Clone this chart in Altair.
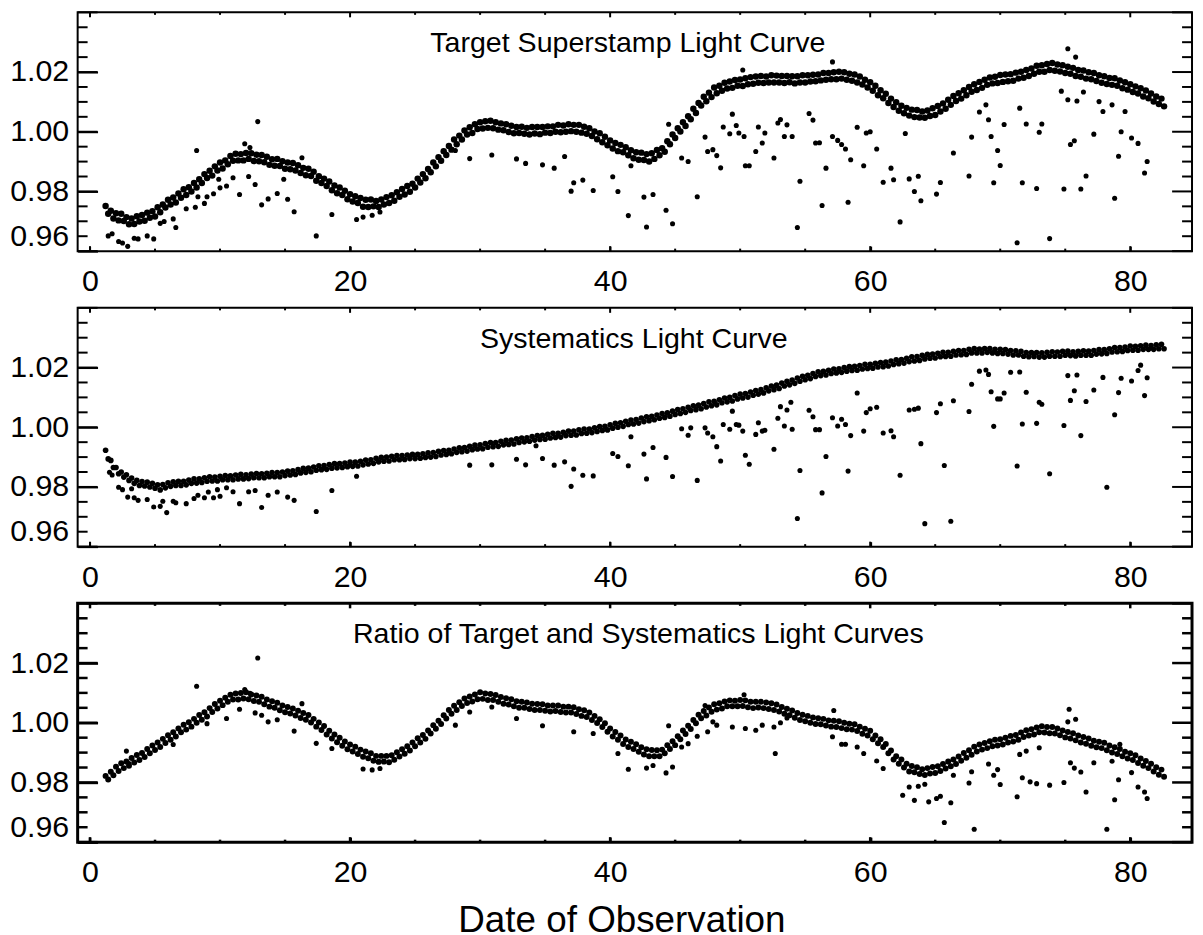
import altair as alt
import numpy as np
import pandas as pd

FONT = "Liberation Sans"

# Dense part of each light curve: samples start at day 1.2, one every 0.2 day.
# Values are (flux - 1) in units of 1e-4.
BAND_START = 1.2
BAND_STEP = 0.2

TARGET_BAND = [
    -249, -275, -265, -291, -273, -297, -275, -299, -286, -310, -291, -309, -283, -301, -279,
    -298, -271, -288, -266, -284, -253, -270, -244, -254, -228, -244, -220, -237, -207, -221,
    -193, -212, -186, -200, -172, -187, -159, -172, -142, -155, -131, -147, -116, -130, -103,
    -123, -96, -109, -81, -97, -74, -96, -75, -96, -71, -91, -72, -98, -77, -99,
    -78, -102, -84, -111, -92, -114, -91, -115, -99, -124, -103, -126, -105, -130, -112,
    -138, -121, -146, -124, -148, -134, -164, -149, -172, -157, -182, -167, -196, -180, -206,
    -187, -212, -198, -226, -209, -234, -216, -239, -222, -251, -228, -252, -227, -250, -232,
    -252, -227, -244, -219, -239, -213, -231, -203, -218, -192, -210, -182, -201, -174, -187,
    -157, -170, -142, -156, -125, -136, -103, -116, -85, -97, -65, -78, -48, -60, -26,
    -42, -13, -26, 4, -9, 15, -4, 25, 9, 32, 11, 35, 13, 37, 12,
    32, 7, 28, 5, 25, -1, 20, -5, 16, -4, 17, -7, 13, -9, 16,
    -6, 16, -8, 16, -3, 18, -4, 18, 0, 23, -2, 21, 0, 25, 2,
    23, 0, 23, -3, 17, -7, 12, -14, 1, -25, -5, -35, -17, -45, -29,
    -56, -38, -65, -44, -69, -52, -79, -62, -89, -69, -94, -70, -95, -75, -100,
    -72, -91, -61, -79, -55, -67, -32, -42, -9, -21, 12, 1, 32, 19, 52,
    42, 77, 63, 96, 88, 117, 102, 131, 116, 148, 129, 154, 137, 164, 145,
    168, 147, 173, 154, 175, 153, 179, 159, 183, 161, 185, 164, 187, 163, 185,
    165, 189, 165, 188, 165, 187, 163, 187, 166, 186, 162, 186, 165, 189, 165,
    189, 168, 191, 169, 192, 172, 197, 174, 197, 176, 199, 176, 201, 178, 199,
    174, 194, 171, 192, 165, 185, 158, 174, 148, 166, 137, 154, 122, 139, 112,
    127, 96, 111, 83, 99, 70, 87, 62, 80, 54, 74, 49, 73, 48, 68,
    47, 71, 53, 79, 56, 86, 68, 95, 77, 107, 90, 120, 103, 129, 111,
    139, 122, 150, 134, 159, 140, 167, 147, 174, 157, 182, 162, 184, 163, 190,
    167, 192, 169, 193, 171, 198, 178, 201, 181, 207, 187, 212, 194, 221, 201,
    223, 201, 227, 207, 230, 204, 225, 202, 223, 197, 218, 194, 214, 187, 207,
    184, 205, 178, 199, 176, 197, 170, 189, 164, 186, 160, 180, 157, 179, 154,
    172, 146, 166, 141, 159, 133, 152, 128, 146, 118, 138, 112, 128, 101, 118,
    93, 111, 85,
]

TARGET_OUTLIERS = [
    (1.4, -349), (1.7, -342), (2.2, -368), (2.5, -373), (2.9, -384), (3.4, -357), (3.7, -359),
    (4.4, -349), (4.9, -359), (5.4, -307), (5.7, -301), (6.4, -292), (6.6, -321), (7.4, -258),
    (8.1, -253), (8.2, -63), (8.3, -218), (8.8, -240), (9.0, -218), (9.5, -208), (9.9, -159),
    (10.0, -188), (10.5, -182), (11.0, -154), (11.5, -210), (11.9, -40), (12.2, -150), (12.3, -53),
    (12.7, -177), (12.9, 34), (13.2, -245), (13.7, -225), (14.4, -207), (14.9, -159), (15.2, -226),
    (15.7, -268), (16.3, -87), (17.4, -349), (18.6, -277), (20.5, -294), (21.0, -286), (21.7, -280),
    (22.3, -269), (28.1, -63), (29.2, -90), (30.9, -78), (32.8, -91), (33.5, -106), (34.8, -111),
    (35.7, -122), (36.5, -83), (37.0, -199), (37.2, -171), (37.9, -162), (38.7, -197), (40.2, -151),
    (40.6, -200), (41.4, -281), (41.6, -114), (42.6, -219), (42.8, -319), (43.3, -210), (44.3, -263),
    (44.5, 25), (44.8, -308), (45.5, -88), (46.0, -100), (46.7, -218), (47.3, -18), (47.5, -66),
    (47.9, -60), (48.2, -80), (48.5, -121), (48.7, 16), (49.2, -7), (49.4, 59), (49.7, 21),
    (49.9, -4), (50.2, 207), (50.3, -16), (50.4, -114), (50.7, -114), (51.2, -66), (51.4, 16),
    (51.7, -38), (51.9, -4), (52.6, -88), (52.9, 29), (53.1, 41), (53.4, -16), (53.6, 23),
    (54.0, -16), (54.4, -321), (54.6, -166), (55.3, 61), (55.6, 39), (55.8, -38), (56.1, -37),
    (56.3, -247), (56.6, -122), (57.1, -16), (57.1, 234), (57.5, -29), (57.8, -43), (58.1, -58),
    (58.3, -236), (58.5, -94), (59.0, 15), (59.5, -114), (59.7, -4), (60.0, 0), (60.5, -58),
    (61.0, -169), (61.6, -122), (61.8, -161), (62.3, -302), (62.7, -6), (63.0, -158), (63.4, -200),
    (63.7, -149), (63.9, -231), (65.1, -209), (65.4, -170), (66.4, -71), (67.6, -148), (67.8, -18),
    (68.4, 66), (68.9, 90), (69.1, 40), (69.3, -16), (69.5, -171), (69.8, -63), (70.0, -113),
    (70.3, 24), (71.3, -372), (71.5, 79), (71.7, -171), (72.0, 26), (72.8, -190), (73.0, -2),
    (73.2, 26), (73.8, -358), (74.7, 136), (74.9, -192), (75.2, 278), (75.2, 107), (75.4, -43),
    (75.7, -30), (75.8, 250), (75.9, 103), (76.2, -192), (76.4, 133), (76.6, -148), (77.2, -8),
    (77.6, 101), (77.9, 68), (78.6, 90), (78.8, -223), (79.1, -82), (79.3, 0), (79.6, 68),
    (80.1, -21), (80.6, -39), (81.1, -138), (81.3, -100),
]

SYSTEMATICS_BAND = [
    -77, -106, -111, -135, -135, -156, -150, -167, -159, -178, -170, -188, -178, -195, -182,
    -197, -184, -200, -188, -204, -193, -210, -192, -203, -186, -198, -183, -195, -181, -195,
    -181, -193, -177, -188, -173, -187, -173, -185, -169, -181, -166, -180, -167, -180, -164,
    -176, -162, -176, -163, -176, -160, -173, -158, -173, -159, -172, -157, -169, -155, -169,
    -156, -169, -154, -166, -152, -166, -152, -166, -150, -162, -147, -160, -146, -158, -142,
    -153, -138, -151, -137, -149, -133, -144, -129, -142, -128, -141, -125, -137, -122, -136,
    -122, -135, -120, -132, -117, -131, -117, -130, -114, -126, -110, -123, -109, -121, -104,
    -116, -101, -114, -100, -113, -97, -109, -95, -109, -95, -108, -93, -105, -91, -105,
    -91, -104, -89, -101, -86, -100, -85, -98, -81, -93, -78, -91, -77, -89, -73,
    -84, -69, -82, -68, -80, -64, -75, -60, -73, -59, -72, -55, -67, -51, -65,
    -51, -64, -47, -59, -44, -58, -43, -56, -39, -51, -36, -49, -35, -47, -31,
    -43, -28, -41, -27, -40, -24, -36, -20, -34, -20, -33, -17, -28, -13, -27,
    -13, -26, -9, -21, -6, -20, -6, -18, -2, -14, 2, -11, 3, -9, 8,
    -3, 13, 0, 15, 3, 20, 9, 24, 11, 26, 14, 31, 19, 35, 22,
    37, 25, 41, 30, 46, 33, 48, 37, 54, 43, 59, 46, 62, 50, 67,
    56, 72, 59, 74, 62, 79, 68, 85, 72, 87, 75, 92, 82, 98, 85,
    100, 88, 106, 95, 111, 98, 113, 101, 118, 107, 123, 111, 126, 115, 132,
    122, 138, 126, 141, 130, 148, 138, 154, 142, 158, 147, 165, 154, 171, 159,
    174, 163, 180, 170, 186, 173, 187, 175, 191, 180, 195, 182, 196, 184, 200,
    188, 203, 190, 204, 191, 207, 195, 211, 197, 211, 198, 214, 202, 217, 203,
    218, 205, 222, 210, 226, 213, 227, 215, 231, 220, 236, 222, 237, 224, 241,
    229, 244, 231, 245, 232, 248, 236, 251, 237, 251, 238, 254, 242, 257, 243,
    257, 244, 261, 249, 264, 249, 262, 249, 264, 251, 264, 249, 261, 247, 261,
    247, 260, 245, 257, 242, 256, 242, 254, 238, 250, 236, 250, 237, 250, 235,
    249, 235, 251, 238, 253, 238, 252, 238, 254, 241, 255, 240, 253, 239, 254,
    241, 256, 241, 255, 241, 257, 245, 260, 246, 260, 247, 263, 252, 267, 253,
    267, 254, 269, 257, 272, 258, 271, 258, 273, 261, 275, 261, 274, 261, 276,
    263, 278, 263,
]

SYSTEMATICS_OUTLIERS = [
    (1.5, -151), (1.7, -160), (2.2, -201), (2.5, -209), (2.9, -234), (3.2, -206), (3.4, -236),
    (3.7, -245), (4.4, -242), (4.9, -267), (5.4, -265), (5.6, -248), (5.9, -286), (6.4, -248),
    (6.6, -253), (7.4, -256), (8.0, -239), (8.3, -228), (8.8, -236), (9.1, -217), (9.5, -236),
    (9.8, -209), (10.0, -231), (10.5, -203), (11.0, -216), (11.5, -256), (12.2, -216), (12.7, -212),
    (13.2, -269), (13.7, -228), (14.4, -217), (15.2, -234), (15.7, -245), (17.4, -282), (18.6, -212),
    (20.5, -164), (29.2, -127), (30.9, -126), (32.8, -107), (33.5, -126), (34.3, -62), (34.8, -105),
    (35.7, -127), (36.5, -116), (37.0, -198), (37.2, -140), (37.9, -161), (38.7, -163), (40.2, -88),
    (40.6, -98), (41.4, -129), (41.6, -32), (42.6, -90), (42.8, -173), (43.3, -68), (44.3, -101),
    (44.8, -165), (45.5, -5), (46.0, -27), (46.2, -2), (46.7, -178), (47.3, -2), (47.5, -19),
    (47.9, -32), (48.2, -65), (48.5, -113), (48.7, 9), (49.2, -7), (49.4, 54), (49.7, 9),
    (49.9, 7), (50.2, -13), (50.4, -94), (50.7, -124), (51.2, -24), (51.4, 15), (51.7, -13),
    (51.9, -10), (52.6, -74), (52.9, 30), (53.1, 69), (53.4, 4), (53.6, 58), (53.9, 84),
    (54.0, -7), (54.4, -306), (54.6, -145), (55.3, 57), (55.6, 35), (55.8, -8), (56.1, -8),
    (56.3, -220), (56.6, -98), (57.1, 32), (57.5, 4), (57.8, 27), (58.1, 9), (58.3, -147),
    (58.5, -28), (59.0, 115), (59.5, -13), (59.7, 49), (60.0, 62), (60.5, 67), (61.0, -19),
    (61.6, -12), (61.8, -32), (62.3, -161), (63.0, 58), (63.4, 60), (63.7, 64), (63.9, -55),
    (64.2, -323), (65.1, 49), (65.4, 79), (65.7, -128), (66.2, -315), (66.4, 89), (67.6, 53),
    (67.8, 144), (68.4, 188), (68.9, 192), (69.1, 177), (69.3, 119), (69.5, 3), (69.8, 95),
    (70.0, 95), (70.3, 115), (70.8, 184), (71.3, -130), (71.5, 185), (71.7, 11), (72.0, 117),
    (72.8, 13), (73.0, 84), (73.2, 77), (73.8, -156), (74.9, 6), (75.2, 173), (75.4, 90),
    (75.7, 122), (75.9, 175), (76.2, -28), (76.6, 86), (77.2, 125), (77.9, 167), (78.2, -201),
    (78.8, 42), (79.1, 116), (79.3, 164), (80.1, 155), (80.6, 190), (80.8, 208), (81.1, 106),
    (81.3, 166),
]

RATIO_BAND = [
    -178, -190, -164, -176, -147, -162, -136, -152, -130, -144, -118, -133, -108, -125, -101,
    -115, -88, -102, -76, -91, -66, -81, -54, -68, -42, -57, -32, -46, -19, -32,
    -7, -23, 2, -13, 13, 0, 26, 10, 35, 21, 49, 36, 63, 48, 74,
    59, 84, 70, 94, 78, 98, 78, 100, 81, 102, 79, 95, 73, 91, 70,
    87, 62, 78, 54, 72, 50, 67, 42, 58, 35, 53, 31, 48, 24, 40,
    16, 33, 10, 26, 1, 13, -13, 1, -24, -11, -39, -27, -53, -39, -65,
    -50, -77, -63, -89, -73, -96, -80, -105, -90, -114, -96, -119, -102, -127, -111,
    -131, -111, -130, -111, -132, -109, -124, -99, -113, -89, -104, -79, -93, -66, -79,
    -52, -66, -41, -54, -26, -36, -8, -20, 7, -4, 25, 14, 43, 30, 57,
    43, 69, 56, 81, 66, 88, 71, 95, 79, 102, 80, 98, 76, 96, 76,
    93, 70, 86, 64, 82, 61, 79, 55, 72, 50, 70, 50, 68, 46, 64,
    43, 63, 43, 62, 40, 58, 38, 58, 39, 58, 36, 54, 34, 54, 34,
    52, 29, 45, 23, 42, 19, 34, 9, 23, -1, 12, -14, -2, -30, -19,
    -46, -31, -57, -43, -71, -56, -81, -64, -88, -72, -97, -82, -106, -89, -112,
    -91, -112, -92, -112, -90, -102, -75, -88, -62, -75, -45, -55, -26, -38, -10,
    -21, 9, -2, 27, 15, 39, 24, 51, 37, 62, 44, 65, 48, 71, 55,
    75, 55, 74, 55, 76, 56, 75, 52, 70, 49, 70, 51, 70, 49, 68,
    46, 65, 43, 61, 38, 53, 30, 47, 25, 41, 17, 33, 9, 27, 5,
    23, 0, 18, -4, 15, -5, 13, -9, 8, -13, 7, -14, 5, -18, 0,
    -22, -3, -23, -5, -28, -13, -37, -20, -43, -27, -55, -43, -69, -55, -81,
    -71, -102, -93, -123, -112, -137, -123, -150, -137, -163, -145, -166, -149, -172, -156,
    -175, -152, -170, -148, -168, -146, -162, -138, -153, -130, -146, -123, -138, -113, -127,
    -101, -117, -92, -107, -80, -96, -73, -90, -68, -85, -62, -79, -57, -76, -55,
    -73, -50, -66, -44, -63, -41, -57, -33, -48, -25, -43, -22, -39, -16, -32,
    -12, -33, -14, -35, -14, -36, -19, -42, -26, -49, -31, -53, -35, -59, -43,
    -66, -48, -70, -53, -77, -60, -82, -64, -85, -67, -92, -76, -100, -82, -105,
    -88, -112, -97, -120, -102, -125, -109, -135, -120, -144, -128, -152, -137, -163, -149,
    -174, -157, -181,
]

RATIO_OUTLIERS = [
    (2.8, -95), (3.0, -137), (6.4, -73), (8.2, 122), (9.0, -3), (10.5, 14), (11.5, 45),
    (11.9, 111), (12.3, 99), (12.7, 33), (12.9, 217), (13.2, 25), (13.7, 3), (14.4, 10),
    (15.7, -28), (16.3, 64), (17.4, -69), (18.6, -86), (21.0, -155), (21.7, -158), (22.3, -153),
    (28.1, -8), (29.2, 36), (30.9, 53), (32.8, 14), (34.8, -10), (37.2, -30), (38.7, -36),
    (40.6, -103), (41.4, -156), (42.8, -152), (43.3, -143), (44.3, -168), (44.5, -10), (44.8, -148),
    (45.5, -81), (46.0, -70), (46.7, -45), (47.3, 58), (47.5, -30), (47.9, 3), (48.2, -8),
    (49.4, -14), (50.3, 94), (50.4, -19), (51.2, -25), (51.7, -8), (52.6, -14), (52.7, -103),
    (53.1, 0), (53.6, 16), (57.1, -47), (57.2, 41), (57.8, -72), (58.1, -72), (59.0, -81),
    (59.5, -103), (60.5, -128), (61.0, -153), (62.5, -243), (63.0, -215), (63.4, -260), (63.7, -213),
    (64.2, -206), (64.5, -265), (65.1, -254), (65.4, -246), (65.7, -334), (66.2, -268), (66.4, -176),
    (67.6, -202), (67.8, -164), (68.0, -357), (69.1, -138), (69.5, -176), (69.8, -157), (70.0, -207),
    (71.3, -248), (71.5, -106), (71.7, -184), (72.0, -95), (72.3, -198), (72.8, -204), (73.0, -84),
    (73.8, -209), (74.9, -200), (75.2, 3), (75.3, 45), (75.4, -134), (75.7, -152), (75.8, 12),
    (76.2, -165), (76.6, -232), (77.2, -134), (78.2, -357), (78.6, -129), (78.8, -258), (79.1, -191),
    (79.2, -72), (80.1, -167), (80.6, -215), (81.1, -232), (81.3, -254),
]

PANEL_TITLES = [
    "Target Superstamp Light Curve",
    "Systematics Light Curve",
    "Ratio of Target and Systematics Light Curves",
]
X_TITLE = "Date of Observation"

X_LABEL_TICKS = [0, 20, 40, 60, 80]
X_MINOR_TICKS = [5, 10, 15, 25, 30, 35, 45, 50, 55, 65, 70, 75]
Y_LABEL_TICKS = [0.96, 0.98, 1.00, 1.02]
Y_MAJOR_TICKS = [0.96, 0.98, 1.00, 1.02, 1.04]
Y_MINOR_TICKS = [0.965, 0.97, 0.975, 0.985, 0.99, 0.995,
                 1.005, 1.01, 1.015, 1.025, 1.03, 1.035]

X_DOMAIN = [-0.95, 84.75]
Y_DOMAIN = [0.96, 1.04]
PLOT_W, PLOT_H = 1120, 240
Y_MAJOR_LEN, Y_MINOR_LEN = 20, 10
X_MAJOR_LEN, X_MINOR_LEN = 5, 2.5

GHOST = pd.DataFrame({"t": [40.0], "v": [1.0]})


def axis(orient, values, size, width, **extra):
    opts = dict(orient=orient, values=values, tickSize=size, offset=-size,
                domain=False, grid=False, ticks=True,
                tickColor="black", tickWidth=width, tickCap="butt",
                minExtent=0, title=None)
    opts.update(extra)
    return alt.Axis(**opts)


def panel(band, outliers, title, title_dx, band_size, tick_w, frame_w, with_x_title):
    times = np.round(BAND_START + BAND_STEP * np.arange(len(band)), 2)
    band_df = pd.DataFrame({"t": times, "v": [1 + b / 1e4 for b in band]})
    out_df = pd.DataFrame({"t": [p[0] for p in outliers],
                           "v": [1 + p[1] / 1e4 for p in outliers]})
    xs = alt.Scale(domain=X_DOMAIN, nice=False, zero=False)
    ys = alt.Scale(domain=Y_DOMAIN, nice=False, zero=False)

    x_extra = dict(labels=True, labelFontSize=30.5, labelFont=FONT, labelColor="black",
                   labelPadding=16, labelFlush=False, labelOverlap=False)
    if with_x_title:
        x_extra.update(title=X_TITLE, titleFont=FONT, titleFontSize=37,
                       titleFontWeight="normal", titleColor="black",
                       titleX=546.5, titleY=95, titleBaseline="alphabetic",
                       titleAlign="center")
    y_extra = dict(labels=True, labelFontSize=30.5, labelFont=FONT, labelColor="black",
                   labelPadding=9, labelFlush=True, format=".2f", minExtent=72,
                   labelOverlap=False)

    band_pts = alt.Chart(band_df).mark_circle(size=band_size, color="black", opacity=1).encode(
        x=alt.X("t:Q", scale=xs, axis=axis("bottom", X_LABEL_TICKS, X_MAJOR_LEN, tick_w, **x_extra)),
        y=alt.Y("v:Q", scale=ys, axis=axis("left", Y_LABEL_TICKS, Y_MAJOR_LEN, tick_w, **y_extra)),
    )
    out_pts = alt.Chart(out_df).mark_circle(size=26, color="black", opacity=1).encode(
        x=alt.X("t:Q", scale=xs, axis=None),
        y=alt.Y("v:Q", scale=ys, axis=None),
    )

    # inward tick marks on all four sides, positioned by the shared scales
    def y_ticks(values, x0, x1):
        return alt.Chart(pd.DataFrame({"v": values})).mark_rule(
            color="black", strokeWidth=tick_w
        ).encode(y=alt.Y("v:Q", scale=ys, axis=None), x=alt.value(x0), x2=alt.value(x1))

    def x_ticks(values, y0, y1):
        return alt.Chart(pd.DataFrame({"t": values})).mark_rule(
            color="black", strokeWidth=tick_w
        ).encode(x=alt.X("t:Q", scale=xs, axis=None), y=alt.value(y0), y2=alt.value(y1))

    ticks = [
        y_ticks(Y_MAJOR_TICKS, 0, Y_MAJOR_LEN),
        y_ticks(Y_MINOR_TICKS, 0, Y_MINOR_LEN),
        y_ticks(Y_MAJOR_TICKS, PLOT_W - Y_MAJOR_LEN, PLOT_W),
        y_ticks(Y_MINOR_TICKS, PLOT_W - Y_MINOR_LEN, PLOT_W),
        x_ticks(X_LABEL_TICKS, PLOT_H - X_MAJOR_LEN, PLOT_H),
        x_ticks(X_MINOR_TICKS, PLOT_H - X_MINOR_LEN, PLOT_H),
        x_ticks(X_LABEL_TICKS, 0, X_MAJOR_LEN),
        x_ticks(X_MINOR_TICKS, 0, X_MINOR_LEN),
    ]

    label = alt.Chart(GHOST).mark_text(
        text=title, font=FONT, fontSize=28.7, baseline="alphabetic", align="center",
        color="black", dx=title_dx,
    ).encode(x=alt.value(PLOT_W / 2), y=alt.value(40))

    return alt.layer(band_pts, out_pts, *ticks, label).resolve_axis(
        x="independent", y="independent"
    ).properties(
        width=PLOT_W,
        height=PLOT_H,
        view=alt.ViewBackground(stroke="black", strokeWidth=frame_w),
    )


p1 = panel(TARGET_BAND, TARGET_OUTLIERS, PANEL_TITLES[0], -7, 42, 2, 2, False)
p2 = panel(SYSTEMATICS_BAND, SYSTEMATICS_OUTLIERS, PANEL_TITLES[1], -1, 32, 2, 2, False)
p3 = panel(RATIO_BAND, RATIO_OUTLIERS, PANEL_TITLES[2], 3.5, 36, 2.5, 3, True)

chart = alt.vconcat(p1, p2, p3, spacing=57, bounds="flush").properties(
    padding=0, background="white"
).configure_view(stroke="black", strokeWidth=2)

chart.save("out.html", embed_options={"renderer": "svg", "actions": False})
